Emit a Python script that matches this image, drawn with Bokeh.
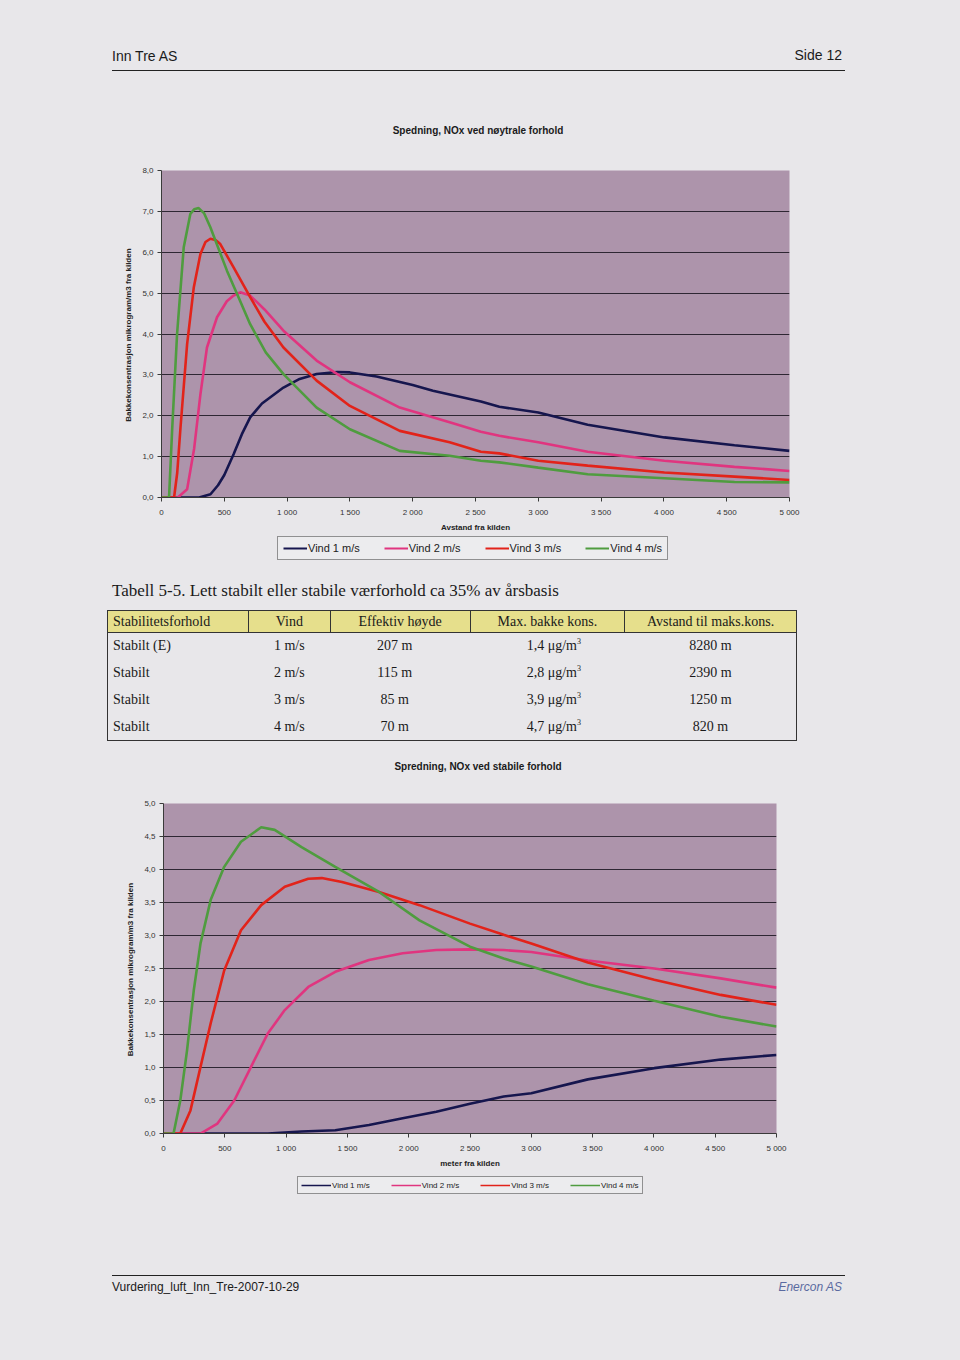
from bokeh.plotting import figure
from bokeh.models import (Div, Legend, LegendItem, FixedTicker, ColumnDataSource)
from bokeh.embed import file_html
from bokeh.resources import INLINE

# ---------------- data: chart 1 (neutral conditions) ----------------
n1_x = [0, 300, 390, 450, 500, 574, 640, 706, 800, 971, 1100, 1235, 1400, 1500, 1712, 2000, 2161, 2543, 2690, 3000, 3393, 4004, 4562, 5000]
n1_y = [0, 0.0, 0.08, 0.3, 0.55, 1.06, 1.55, 1.96, 2.3, 2.69, 2.9, 3.02, 3.07, 3.06, 2.96, 2.75, 2.61, 2.35, 2.22, 2.08, 1.78, 1.47, 1.28, 1.14]
n2_x = [0, 130, 204, 260, 310, 362, 442, 520, 574, 627, 706, 820, 971, 1235, 1500, 1897, 2294, 2543, 2690, 3000, 3393, 4004, 4562, 5000]
n2_y = [0, 0.0, 0.2, 1.2, 2.53, 3.67, 4.41, 4.8, 4.94, 5.02, 4.94, 4.6, 4.08, 3.35, 2.82, 2.2, 1.84, 1.61, 1.51, 1.35, 1.12, 0.9, 0.75, 0.65]
n3_x = [0, 100, 125, 151, 204, 257, 310, 350, 389, 430, 468, 574, 706, 820, 971, 1235, 1500, 1897, 2294, 2543, 2690, 3000, 3393, 4004, 4562, 5000]
n3_y = [0, 0.0, 0.6, 1.7, 3.75, 5.14, 5.96, 6.25, 6.33, 6.3, 6.2, 5.63, 4.9, 4.3, 3.67, 2.86, 2.24, 1.63, 1.35, 1.12, 1.08, 0.9, 0.78, 0.61, 0.51, 0.43]
n4_x = [0, 60, 85, 124, 177, 230, 260, 296, 340, 389, 521, 620, 706, 830, 971, 1235, 1500, 1897, 2294, 2543, 2690, 3000, 3393, 4004, 4562, 5000]
n4_y = [0, 0.0, 1.67, 4.0, 6.12, 6.94, 7.05, 7.08, 6.95, 6.61, 5.55, 4.85, 4.24, 3.55, 3.02, 2.2, 1.67, 1.14, 1.02, 0.9, 0.86, 0.73, 0.57, 0.47, 0.38, 0.37]

# ---------------- data: chart 2 (stable conditions) ----------------
s1_x = [0, 852, 1126, 1401, 1676, 1951, 2225, 2500, 2775, 3000, 3461, 4003, 4545, 5000]
s1_y = [0, 0.0, 0.03, 0.05, 0.13, 0.23, 0.33, 0.45, 0.56, 0.61, 0.82, 0.99, 1.12, 1.19]
s2_x = [0, 302, 440, 577, 714, 852, 989, 1181, 1401, 1676, 1951, 2225, 2500, 2775, 3000, 3461, 4003, 4545, 5000]
s2_y = [0, 0.0, 0.15, 0.5, 1.01, 1.52, 1.87, 2.22, 2.45, 2.63, 2.73, 2.78, 2.79, 2.78, 2.75, 2.62, 2.5, 2.35, 2.21]
s3_x = [0, 137, 220, 302, 385, 495, 632, 797, 989, 1181, 1291, 1456, 1758, 2088, 2500, 2775, 3000, 3461, 4003, 4545, 5000]
s3_y = [0, 0.0, 0.35, 1.01, 1.67, 2.47, 3.08, 3.46, 3.74, 3.86, 3.87, 3.81, 3.66, 3.46, 3.18, 3.01, 2.88, 2.59, 2.33, 2.1, 1.95]
s4_x = [0, 82, 137, 192, 247, 302, 385, 495, 632, 797, 907, 1126, 1401, 1758, 2088, 2500, 2775, 3000, 3461, 4003, 4545, 5000]
s4_y = [0, 0.0, 0.5, 1.26, 2.17, 2.88, 3.54, 4.04, 4.42, 4.64, 4.6, 4.34, 4.04, 3.66, 3.23, 2.83, 2.65, 2.53, 2.26, 2.01, 1.77, 1.62]

series_names = ["Vind 1 m/s", "Vind 2 m/s", "Vind 3 m/s", "Vind 4 m/s"]
x_ticks = [0, 500, 1000, 1500, 2000, 2500, 3000, 3500, 4000, 4500, 5000]
x_tick_labels = ["0", "500", "1 000", "1 500", "2 000", "2 500", "3 000", "3 500", "4 000", "4 500", "5 000"]
y1_ticks = [0, 1, 2, 3, 4, 5, 6, 7, 8]
y1_tick_labels = ["0,0", "1,0", "2,0", "3,0", "4,0", "5,0", "6,0", "7,0", "8,0"]
y2_ticks = [0, 0.5, 1, 1.5, 2, 2.5, 3, 3.5, 4, 4.5, 5]
y2_tick_labels = ["0,0", "0,5", "1,0", "1,5", "2,0", "2,5", "3,0", "3,5", "4,0", "4,5", "5,0"]

table_header = ["Stabilitetsforhold", "Vind", "Effektiv høyde", "Max. bakke kons.", "Avstand til maks.kons."]
table_stab = ["Stabilt (E)", "Stabilt", "Stabilt", "Stabilt"]
table_wind = ["1 m/s", "2 m/s", "3 m/s", "4 m/s"]
table_height = ["207 m", "115 m", "85 m", "70 m"]
table_conc = ["1,4", "2,8", "3,9", "4,7"]
table_dist = ["8280 m", "2390 m", "1250 m", "820 m"]

# ---------------- style ----------------
PAGE = "#e8e7ea"
PLOT_BG = "#ad94ab"
GRID = "#2e2733"
COLORS = ["#16164e", "#e0357f", "#e2231a", "#4f9c3f"]
SANS = "Liberation Sans"
SERIF = "Liberation Serif"
W = 960


def make_chart(series, y_end, y_ticks, y_labels, grid_ticks, x_title, h, left, right, top, bottom):
    p = figure(width=W, height=h, output_backend="svg", toolbar_location=None,
               x_range=(0, 5000), y_range=(0, y_end),
               min_border_left=left, min_border_right=right,
               min_border_top=top, min_border_bottom=bottom, margin=0,
               styles={"background-color": PAGE})
    p.background_fill_color = PLOT_BG
    p.border_fill_color = PAGE
    p.outline_line_color = None
    p.xgrid.visible = False
    p.ygrid.ticker = FixedTicker(ticks=grid_ticks)
    p.ygrid.grid_line_color = GRID
    p.ygrid.grid_line_width = 1.2

    p.xaxis.ticker = FixedTicker(ticks=x_ticks)
    p.xaxis.major_label_overrides = {t: l for t, l in zip(x_ticks, x_tick_labels)}
    p.yaxis.ticker = FixedTicker(ticks=y_ticks)
    p.yaxis.major_label_overrides = {t: l for t, l in zip(y_ticks, y_labels)}
    for ax in (p.xaxis, p.yaxis):
        ax.axis_line_color = "#3a3a3a"
        ax.axis_line_width = 1
        ax.major_tick_line_color = "#3a3a3a"
        ax.major_tick_out = 4
        ax.major_tick_in = 0
        ax.minor_tick_line_color = None
        ax.major_label_text_font = SANS
        ax.major_label_text_font_size = "8px"
        ax.major_label_text_color = "#333333"
        ax.axis_label_text_font = SANS
        ax.axis_label_text_font_size = "8px"
        ax.axis_label_text_font_style = "bold"
        ax.axis_label_text_color = "#222222"
    p.xaxis.major_label_standoff = 6
    p.xaxis.axis_label_standoff = 3
    p.yaxis.major_label_standoff = 4
    p.yaxis.axis_label_standoff = 6
    p.xaxis.axis_label = x_title
    p.yaxis.axis_label = "Bakkekonsentrasjon  mikrogram/m3 fra kilden"

    for (xs, ys), col, name in zip(series, COLORS, series_names):
        src = ColumnDataSource(dict(x=xs, y=ys))
        p.line("x", "y", source=src, line_color=col, line_width=2.6)
    return p


def make_legend(series, h, left, bottom_off, font, glyph_w, spacing, pad, lw):
    # legend strip below a chart; the series are drawn again here (outside the visible
    # range) so that each legend key is bound to its real line renderer
    lp = figure(width=W, height=h, output_backend="svg", toolbar_location=None,
                x_range=(0, 5000), y_range=(-30, -29), x_axis_location=None, y_axis_location=None,
                min_border=0, margin=0, styles={"background-color": PAGE})
    lp.background_fill_color = PAGE
    lp.border_fill_color = PAGE
    lp.outline_line_color = None
    lp.grid.visible = False
    items = []
    for (xs, ys), col, name in zip(series, COLORS, series_names):
        r = lp.line(x=xs, y=ys, line_color=col, line_width=lw)
        items.append(LegendItem(label=name, renderers=[r]))
    leg = Legend(items=items, orientation="horizontal", location=(left, bottom_off))
    leg.label_text_font = SANS
    leg.label_text_font_size = font
    leg.label_text_color = "#222222"
    leg.glyph_width = glyph_w
    leg.glyph_height = 10
    leg.spacing = spacing
    leg.padding = pad
    leg.margin = 0
    leg.label_standoff = 1
    leg.border_line_color = "#333333"
    leg.border_line_width = 1
    leg.background_fill_color = "#ececee"
    leg.background_fill_alpha = 1
    lp.add_layout(leg, "center")
    return lp


header = Div(width=W, height=150, margin=0, styles={"background-color": PAGE}, text=f"""
<div style="position:relative;width:{W}px;height:150px;font-family:'{SANS}';">
  <div style="position:absolute;left:112px;top:46px;font-size:14px;color:#1a1a1a;">Inn Tre AS</div>
  <div style="position:absolute;right:118px;top:45px;font-size:14px;color:#1a1a1a;">Side 12</div>
  <div style="position:absolute;left:112px;top:70px;width:733px;height:0;border-top:1.5px solid #222;"></div>
  <div style="position:absolute;left:0;top:124px;width:956px;text-align:center;font-size:10px;font-weight:bold;color:#1a1a1a;">Spedning, NOx ved nøytrale forhold</div>
</div>""")

neutral = [(n1_x, n1_y), (n2_x, n2_y), (n3_x, n3_y), (n4_x, n4_y)]
stable = [(s1_x, s1_y), (s2_x, s2_y), (s3_x, s3_y), (s4_x, s4_y)]

p1 = make_chart(neutral, 8, y1_ticks, y1_tick_labels,
                [1, 2, 3, 4, 5, 6, 7], "Avstand fra kilden", 385, 161, 171, 20, 38)
leg1 = make_legend(neutral, 35, 277, 10, "11px", 24, 24, 5, 2)

rows_html = ""
for i in range(4):
    rows_html += f"""
  <tr style="height:27px;">
    <td style="text-align:left;padding-left:5px;">{table_stab[i]}</td>
    <td style="text-align:center;">{table_wind[i]}</td>
    <td style="text-align:center;padding-right:12px;">{table_height[i]}</td>
    <td style="text-align:center;padding-left:14px;">{table_conc[i]} μg/m<sup style="font-size:8px;">3</sup></td>
    <td style="text-align:center;">{table_dist[i]}</td>
  </tr>"""

th_style = "background:#e6df8c;border:1px solid #333;font-weight:normal;height:22px;padding:0;"
table_div = Div(width=W, height=210, margin=0, styles={"background-color": PAGE}, text=f"""
<div style="position:relative;width:{W}px;height:210px;">
  <div style="position:absolute;left:112px;top:9px;font-family:'{SERIF}';font-size:17px;color:#1a1a1a;">Tabell 5-5. Lett stabilt eller stabile værforhold ca 35% av årsbasis</div>
  <table style="position:absolute;left:107px;top:40px;width:690px;border-collapse:collapse;font-family:'{SERIF}';font-size:14px;color:#1a1a1a;border:1px solid #333;">
    <colgroup><col style="width:141px"><col style="width:82px"><col style="width:140px"><col style="width:155px"><col style="width:172px"></colgroup>
    <tr>
      <th style="{th_style}text-align:left;padding-left:5px;">{table_header[0]}</th>
      <th style="{th_style}text-align:center;">{table_header[1]}</th>
      <th style="{th_style}text-align:center;">{table_header[2]}</th>
      <th style="{th_style}text-align:center;">{table_header[3]}</th>
      <th style="{th_style}text-align:center;">{table_header[4]}</th>
    </tr>{rows_html}
  </table>
  <div style="position:absolute;left:0;top:190px;width:956px;text-align:center;font-family:'{SANS}';font-size:10px;font-weight:bold;color:#1a1a1a;">Spredning, NOx ved stabile forhold</div>
</div>""")

p2 = make_chart(stable, 5, y2_ticks, y2_tick_labels,
                [0.5, 1, 1.5, 2, 2.5, 3, 3.5, 4, 4.5], "meter fra kilden", 390, 163, 184, 23, 37)
leg2 = make_legend(stable, 30, 297, 6, "8px", 30, 21, 3, 1.5)

footer = Div(width=W, height=160, margin=0, styles={"background-color": PAGE}, text=f"""
<div style="position:relative;width:{W}px;height:160px;font-family:'{SANS}';">
  <div style="position:absolute;left:112px;top:75px;width:733px;height:0;border-top:1.5px solid #222;"></div>
  <div style="position:absolute;left:112px;top:79px;font-size:12px;color:#1a1a1a;">Vurdering_luft_Inn_Tre-2007-10-29</div>
  <div style="position:absolute;right:118px;top:79px;font-size:12px;font-style:italic;color:#5a6aa0;">Enercon AS</div>
</div>""")

# separate roots, stacked in page order (keeps each chart's own frame geometry)
p = [header, p1, leg1, table_div, p2, leg2, footer]

open("out.html", "w").write(file_html(p, INLINE))
